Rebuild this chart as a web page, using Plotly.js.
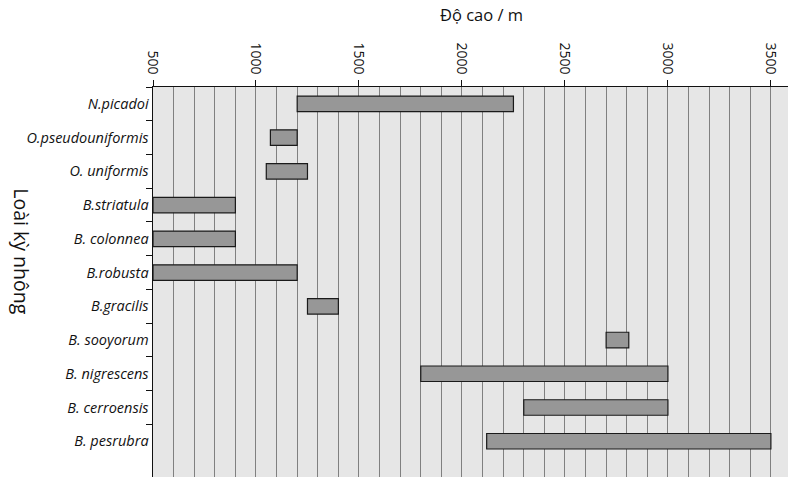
<!DOCTYPE html>
<html>
<head>
<meta charset="utf-8">
<script src="https://cdn.plot.ly/plotly-3.0.1.min.js"></script>
<style>html,body{margin:0;padding:0;background:#fff;}#chart{width:800px;height:486px;}</style>
</head>
<body>
<div id="chart"></div>
<script>
// Data
const species = ["N.picadoi", "O.pseudouniformis", "O. uniformis", "B.striatula", "B. colonnea",
                 "B.robusta", "B.gracilis", "B. sooyorum", "B. nigrescens", "B. cerroensis", "B. pesrubra"];
const rangeStart = [1200, 1070, 1050, 500, 500, 500, 1250, 2700, 1800, 2300, 2120];
const rangeEnd   = [2250, 1200, 1250, 900, 900, 1200, 1400, 2810, 3000, 3000, 3500];
const xTickVals = [500, 1000, 1500, 2000, 2500, 3000, 3500];
const xTitle = "Độ cao / m";
const yTitle = "Loài kỳ nhông";

const spans = rangeEnd.map((e, i) => e - rangeStart[i]);

const trace = {
  type: "bar",
  orientation: "h",
  y: species,
  x: spans,
  base: rangeStart,
  width: 0.46,
  marker: { color: "#979797", line: { color: "#1a1a1a", width: 1.2 } },
  hoverinfo: "skip"
};

const layout = {
  width: 800, height: 486,
  margin: { l: 153, r: 12, t: 87, b: 9 },
  paper_bgcolor: "#ffffff",
  plot_bgcolor: "#e6e6e6",
  showlegend: false,
  font: { family: "Open Sans, sans-serif", color: "#111" },
  xaxis: {
    side: "top",
    range: [500, 3583],
    tickvals: xTickVals,
    ticktext: xTickVals.map(String),
    tickangle: 90,
    ticks: "outside", ticklen: 6, tickcolor: "#111", tickwidth: 1,
    tickfont: { size: 14, family: "Open Sans, sans-serif", color: "#111" },
    showline: true, linecolor: "#111", linewidth: 1.5,
    showgrid: true, gridcolor: "#808080", gridwidth: 1,
    minor: { dtick: 100, tick0: 500, showgrid: true, gridcolor: "#808080", gridwidth: 1 },
    zeroline: false, fixedrange: true
  },
  yaxis: {
    type: "category",
    range: [11.06, -0.5],
    tickson: "boundaries",
    ticks: "outside", ticklen: 6, tickcolor: "#111", tickwidth: 1,
    tickfont: { size: 14.5, family: "Open Sans, sans-serif", color: "#111", style: "italic" },
    showline: true, linecolor: "#111", linewidth: 1.5,
    showgrid: false, zeroline: false, fixedrange: true
  },
  annotations: [
    { text: xTitle, xref: "paper", yref: "paper", x: 0.518, y: 1.185,
      xanchor: "center", yanchor: "middle", showarrow: false,
      font: { size: 16.5, family: "Open Sans, sans-serif", color: "#111" } },
    { text: yTitle, xref: "paper", yref: "paper", x: -0.207, y: 0.58,
      xanchor: "center", yanchor: "middle", showarrow: false, textangle: 90,
      font: { size: 19.5, family: "Open Sans, sans-serif", color: "#111" } }
  ]
};

Plotly.newPlot("chart", [trace], layout, { staticPlot: true, displayModeBar: false });
</script>
</body>
</html>
